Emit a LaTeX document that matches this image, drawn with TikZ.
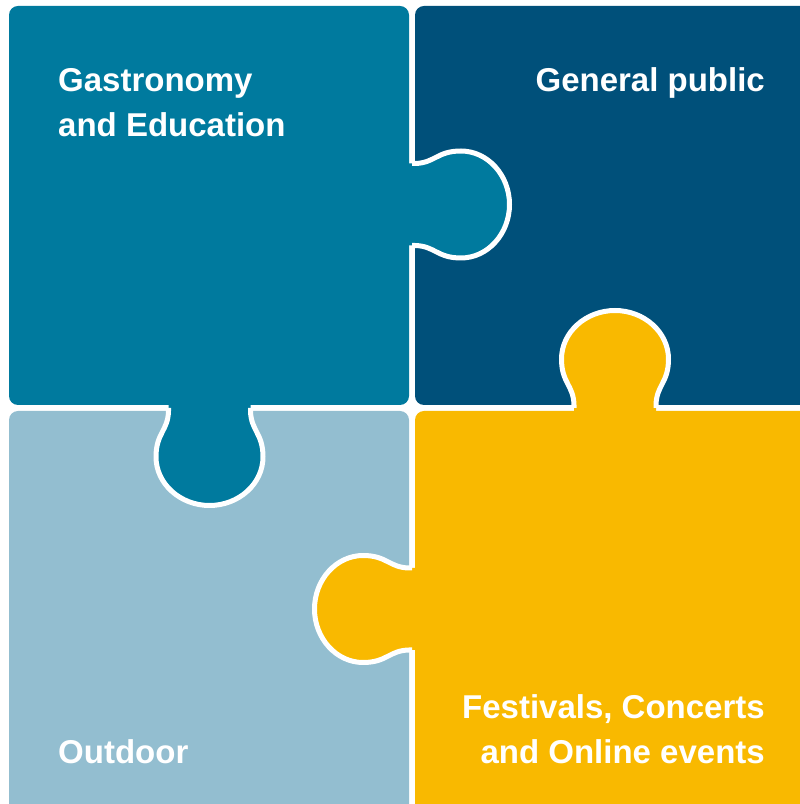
\documentclass[tikz,border=0pt]{standalone}
\usepackage{fontspec}
\setmainfont{Liberation Sans}
\definecolor{tlc}{RGB}{0,122,158}
\definecolor{trc}{RGB}{0,80,122}
\definecolor{blc}{RGB}{147,190,208}
\definecolor{brc}{RGB}{249,185,0}
\tikzset{
  piece/.style={rounded corners=9pt},
  tabline/.style={draw=white, line width=5pt, line join=round},
  tabp/.style={insert path={.. controls (20,-41.5) and (22,-53.5) .. (46,-53.5)
     .. controls (72.5,-53.5) and (94.5,-29.5) .. (94.5,0)
     .. controls (94.5,29.5) and (72.5,53.5) .. (46,53.5)
     .. controls (22,53.5) and (20,41.5) .. (0,41)}},
  lbl/.style={text=white, font=\fontsize{33}{40}\selectfont\bfseries, inner sep=0pt}
}
\begin{document}
\begin{tikzpicture}[x=1pt,y=1pt]
\useasboundingbox (0,0) rectangle (800,804);
\clip (0,0) rectangle (800,804);
% pieces
\fill[tlc, piece] (9,399) rectangle (409,798);
\fill[trc, piece] (415,399) rectangle (812,798);
\fill[blc, piece] (9,-12) rectangle (409,393);
\fill[brc, piece] (415,-12) rectangle (812,393);
% tab: top-left into top-right
\begin{scope}[shift={(415,599.5)}]
  \fill[tlc] (-8,-41) -- (0,-41) [tabp] -- (-8,41) -- cycle;
  \draw[tabline] (-3,-41) -- (0,-41) [tabp] -- (-3,41);
\end{scope}
% tab: top-left into bottom-left
\begin{scope}[shift={(209.5,393)}, rotate=-90]
  \fill[tlc] (-8,-41) -- (0,-41) [tabp] -- (-8,41) -- cycle;
  \draw[tabline] (-3,-41) -- (0,-41) [tabp] -- (-3,41);
\end{scope}
% tab: bottom-right into top-right
\begin{scope}[shift={(615,399)}, rotate=90]
  \fill[brc] (-8,-41) -- (0,-41) [tabp] -- (-8,41) -- cycle;
  \draw[tabline] (-3,-41) -- (0,-41) [tabp] -- (-3,41);
\end{scope}
% tab: bottom-right into bottom-left
\begin{scope}[shift={(409,195)}, rotate=180]
  \fill[brc] (-8,-41) -- (0,-41) [tabp] -- (-8,41) -- cycle;
  \draw[tabline] (-3,-41) -- (0,-41) [tabp] -- (-3,41);
\end{scope}
% labels
\node[lbl, anchor=base west] (g1) at (58,712) {Gastronomy};
\node[lbl, anchor=base west] (g2) at (58,667) {and Education};
\node[lbl, anchor=base east] (gp) at (765,712) {General public};
\node[lbl, anchor=base west] (od) at (58,40) {Outdoor};
\node[lbl, anchor=base east] (f1) at (765,85) {Festivals, Concerts};
\node[lbl, anchor=base east] (f2) at (765,41) {and Online events};
\end{tikzpicture}
\end{document}
